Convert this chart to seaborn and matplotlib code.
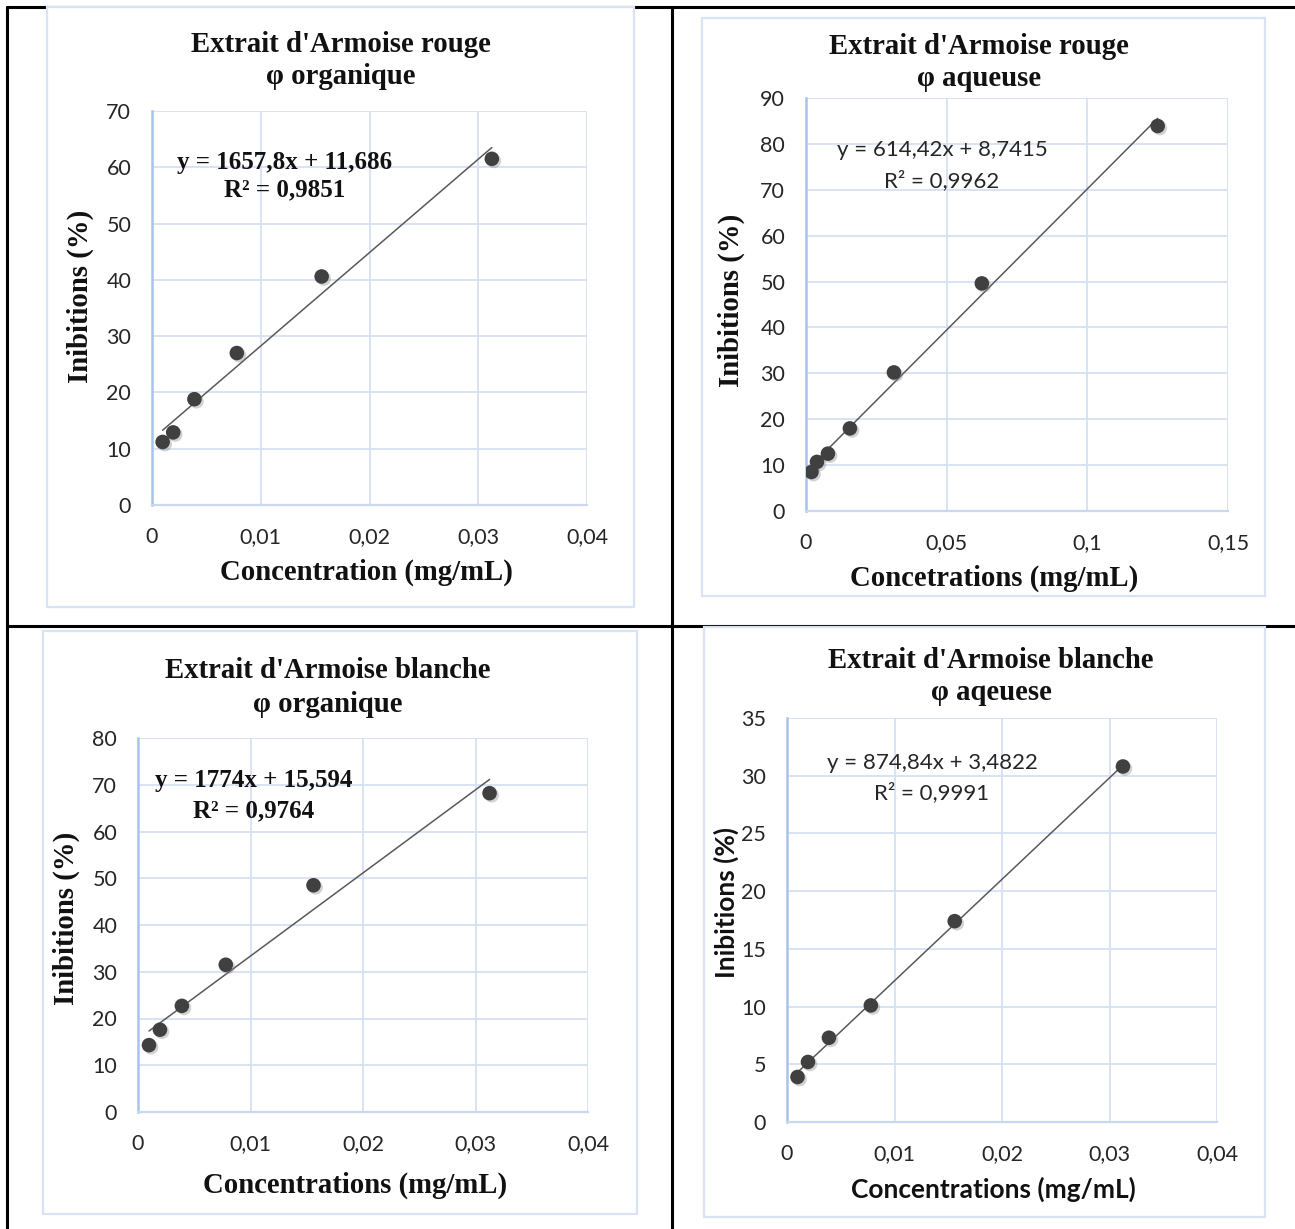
import numpy as np
import pandas as pd
import matplotlib
matplotlib.use("Agg")
import matplotlib.pyplot as plt
import matplotlib.patheffects as pe
from matplotlib.patches import Rectangle
from matplotlib.lines import Line2D
import seaborn as sns

# ---------------- data ----------------
conc_6 = [0.000977, 0.00195, 0.0039, 0.0078, 0.0156, 0.03125]
conc_7 = [0.00195, 0.0039, 0.0078, 0.0156, 0.03125, 0.0625, 0.125]

rouge_org = [11.2, 12.9, 18.8, 27.0, 40.6, 61.5]
rouge_aq = [8.5, 10.7, 12.5, 18.0, 30.2, 49.6, 83.9]
blanche_org = [14.3, 17.6, 22.7, 31.5, 48.5, 68.2]
blanche_aq = [3.9, 5.2, 7.3, 10.1, 17.4, 30.8]

titles = [
    ("Extrait d'Armoise rouge", "φ organique"),
    ("Extrait d'Armoise rouge", "φ aqueuse"),
    ("Extrait d'Armoise blanche", "φ organique"),
    ("Extrait d'Armoise blanche", "φ aqeuese"),
]
xlabels = ["Concentration (mg/mL)", "Concetrations (mg/mL)",
           "Concentrations (mg/mL)", "Concentrations (mg/mL)"]
ylabel = "Inibitions (%)"
equations = [
    ("y = 1657,8x + 11,686", "R² = 0,9851"),
    ("y = 614,42x + 8,7415", "R² = 0,9962"),
    ("y = 1774x + 15,594", "R² = 0,9764"),
    ("y = 874,84x + 3,4822", "R² = 0,9991"),
]
xticks_list = [
    [0, 0.01, 0.02, 0.03, 0.04],
    [0, 0.05, 0.1, 0.15],
    [0, 0.01, 0.02, 0.03, 0.04],
    [0, 0.01, 0.02, 0.03, 0.04],
]
xticklabels_list = [
    ["0", "0,01", "0,02", "0,03", "0,04"],
    ["0", "0,05", "0,1", "0,15"],
    ["0", "0,01", "0,02", "0,03", "0,04"],
    ["0", "0,01", "0,02", "0,03", "0,04"],
]
yticks_list = [
    list(range(0, 71, 10)),
    list(range(0, 91, 10)),
    list(range(0, 81, 10)),
    list(range(0, 36, 5)),
]
series = [(conc_6, rouge_org), (conc_7, rouge_aq), (conc_6, blanche_org), (conc_6, blanche_aq)]

# ---------------- layout (pixels) ----------------
W, H = 1295, 1229
sns.set_theme(style="white")
plt.rcParams['font.family'] = ['Lato', 'DejaVu Sans']

fig = plt.figure(figsize=(W / 100, H / 100), dpi=100)
fig.patch.set_facecolor("white")


def fx(x):
    return x / W


def fy(y):
    return 1 - y / H


# table lines
tbl_kw = dict(color="black", lw=2.2, transform=fig.transFigure, zorder=0)
fig.add_artist(Line2D([fx(7), fx(1295)], [fy(7), fy(7)], **tbl_kw))
fig.add_artist(Line2D([fx(7), fx(7)], [fy(7), fy(1229)], **tbl_kw))
fig.add_artist(Line2D([fx(672), fx(672)], [fy(7), fy(1229)], **tbl_kw))
fig.add_artist(Line2D([fx(7), fx(1295)], [fy(626), fy(626)], **tbl_kw))

chart_boxes = [(47, 7, 634, 607), (702, 18, 1265, 596), (43, 631, 637, 1214), (704, 627, 1265, 1217)]
plot_boxes = [(152, 111, 587, 505), (806, 98, 1228, 511), (138, 738, 588, 1112), (787, 718, 1217, 1122)]
title_pos = [(341, 45, 77), (979, 46, 78), (328, 670, 704), (991, 660, 693)]
xlabel_pos = [(366, 572), (994, 578), (355, 1185), (993, 1189)]
ylabel_pos = [(80, 296), (731, 300), (66, 918), (726, 903)]
eq_pos = [(285, 162, 190), (942, 150, 181), (254, 781, 811), (932, 763, 793)]
eq_serif = [True, False, True, False]
label_serif = [True, True, True, False]

serif = "Liberation Serif"
grid_col = "#D5E1F2"
edge_col = "#DAE3F3"
text_col = "#111111"

for i in range(4):
    l, t, r, b = chart_boxes[i]
    fig.add_artist(Rectangle((fx(l), fy(b)), fx(r - l), (b - t) / H, transform=fig.transFigure,
                             facecolor="white", edgecolor=edge_col, lw=1.6, zorder=1))

    l, t, r, b = plot_boxes[i]
    ax = fig.add_axes([fx(l), fy(b), fx(r - l), (b - t) / H])
    ax.set_zorder(2)
    ax.patch.set_alpha(0)
    x, y = series[i]
    df = pd.DataFrame({"x": x, "y": y})
    sns.regplot(data=df, x="x", y="y", ax=ax, ci=None,
                scatter_kws=dict(s=110, color="#404040", alpha=1, edgecolor="none", zorder=5),
                line_kws=dict(color="#595959", lw=1.1, zorder=4))
    ax.collections[0].set_path_effects([
        pe.SimplePatchShadow(offset=(1.5, -1.5), shadow_rgbFace="#7f7f7f", alpha=0.35),
        pe.Normal()])
    xt, yt = xticks_list[i], yticks_list[i]
    ax.set_xlim(xt[0], xt[-1])
    ax.set_ylim(yt[0], yt[-1])
    ax.set_xticks(xt)
    ax.set_xticklabels(xticklabels_list[i])
    ax.set_yticks(yt)
    ax.set_yticklabels([str(v) for v in yt])
    ax.tick_params(axis="both", length=0, labelsize=15.5, labelcolor="#262626")
    ax.tick_params(axis="x", pad=16)
    ax.tick_params(axis="y", pad=15)
    ax.grid(True, color=grid_col, lw=1.3)
    ax.set_axisbelow(True)
    for s in ["top", "right"]:
        ax.spines[s].set_visible(False)
    ax.spines["left"].set_color("#A9C2E9")
    ax.spines["left"].set_linewidth(1.8)
    ax.spines["bottom"].set_color("#C9D8EF")
    ax.spines["bottom"].set_linewidth(1.6)
    ax.set_xlabel("")
    ax.set_ylabel("")

    # titles
    tx, ty1, ty2 = title_pos[i]
    for txt, yy in ((titles[i][0], ty1), (titles[i][1], ty2)):
        fig.text(fx(tx), fy(yy), txt, ha="center", va="center", fontsize=20.7,
                 fontweight="bold", family=serif, color=text_col, zorder=5)

    # axis labels
    lx, ly = xlabel_pos[i]
    vx, vy = ylabel_pos[i]
    if label_serif[i]:
        fkw = dict(family=serif, fontsize=20.7, fontweight="bold")
    else:
        fkw = dict(family="Lato", fontsize=18.9, fontweight="bold")
    fig.text(fx(lx), fy(ly), xlabels[i], ha="center", va="center", color=text_col, zorder=5, **fkw)
    fig.text(fx(vx), fy(vy), ylabel, ha="center", va="center", rotation=90, color=text_col,
             zorder=5, **fkw)

    # equations
    ex, ey1, ey2 = eq_pos[i]
    if eq_serif[i]:
        ekw = dict(family=serif, fontsize=18, fontweight="bold", color=text_col)
    else:
        ekw = dict(family="Lato", fontsize=16, color="#262626")
    fig.text(fx(ex), fy(ey1), equations[i][0], ha="center", va="center", zorder=5, **ekw)
    fig.text(fx(ex), fy(ey2), equations[i][1], ha="center", va="center", zorder=5, **ekw)

fig.savefig("out.png", dpi=100, facecolor="white")
